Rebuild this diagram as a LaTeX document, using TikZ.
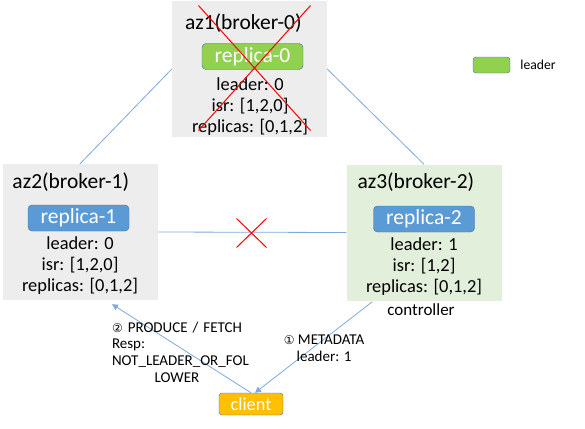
\documentclass[tikz,border=0pt]{standalone}
\usepackage{fontspec}
\setmainfont{Carlito}
\newfontfamily\symfont{DejaVu Sans}
\usetikzlibrary{arrows.meta, positioning, shapes.misc, calc}
\definecolor{azgray}{HTML}{EDEDED}
\definecolor{azgreen}{HTML}{E2EFDA}
\definecolor{repgreen}{HTML}{92D050}
\definecolor{repblue}{HTML}{5B9BD5}
\definecolor{repedge}{HTML}{41719C}
\definecolor{clientfill}{HTML}{FFC000}
\definecolor{linkblue}{HTML}{7FA8DC}

\begin{document}
\begin{tikzpicture}[
        x=1pt, y=-1pt,
        >={Triangle[width=6pt, length=6pt]},
        broker/.style={fill=azgray, minimum width=155pt, minimum height=136pt, inner sep=0pt},
        ctrlbroker/.style={broker, fill=azgreen},
        aztitle/.style={anchor=west, inner sep=0pt, font=\fontsize{21.5}{24}\selectfont},
        replica/.style={draw=repedge, fill=repblue, rounded corners=4pt, minimum width=101pt, minimum height=26pt, inner sep=0pt, text=white, font=\fontsize{21.5}{24}\selectfont},
        leaderrep/.style={replica, fill=repgreen},
        info/.style={align=center, inner sep=0pt, font=\fontsize{18.4}{21}\selectfont},
        link/.style={linkblue, line width=0.8pt},
        down/.style={draw=red, line width=1pt, cross out, inner sep=0pt},
        annot/.style={inner sep=0pt, align=center, font=\fontsize{15}{16.7}\selectfont}
    ]
    \useasboundingbox (0,0) rectangle (585,428);

    % --- Brokers ---
    \node[broker] (az1) at (249.5,69) {};
    \node[aztitle] (az1title) at ($(az1.north west)+(13,22)$) {az1(broker-0)};
    \node[leaderrep] (rep0) at (252.5,56.5) {replica-0};
    \node[info] (az1info) at (250,107) {leader: 0\\isr: [1,2,0]\\replicas: [0,1,2]};

    \node[broker] (az2) at (80,232) {};
    \node[aztitle] (az2title) at ($(az2.north west)+(10,18)$) {az2(broker-1)};
    \node[replica] (rep1) at (78.5,218) {replica-1};
    \node[info] (az2info) at (80,265.5) {leader: 0\\isr: [1,2,0]\\replicas: [0,1,2]};

    \node[ctrlbroker] (az3) at (424,232.5) {};
    \node[aztitle] (az3title) at ($(az3.north west)+(11,18)$) {az3(broker-2)};
    \node[replica] (rep2) at (424,219) {replica-2};
    \node[info] (az3info) at (424,267) {leader: 1\\isr: [1,2]\\replicas: [0,1,2]};
    \node[annot, font=\fontsize{17}{18}\selectfont] (ctrl) at (421,310) {controller};

    % --- Links between brokers ---
    \draw[link] (az1.west) -- (az2.north);
    \draw[link] (az1.east) -- (az3.north);
    \draw[link] (az2.east) -- (az3.west);

    % --- Failures ---
    \node[down, minimum width=111pt, minimum height=124pt] (az1down) at (254.5,68) {};
    \node[down, minimum width=29pt, minimum height=28pt] (linkdown) at (251.5,233) {};

    % --- Client ---
    \node[draw=repedge, fill=clientfill, rounded corners=3pt, minimum width=64pt, minimum height=22pt, inner sep=0pt, text=white, font=\fontsize{18.3}{20}\selectfont] (client) at (251,404) {client};
    \coordinate (fetchend) at ($(az2.south)+(32,4)$);
    \coordinate (metastart) at ($(az3.south west)+(26,1)$);
    \draw[link, ->] (client.north) -- (fetchend);
    \draw[link, ->] (metastart) -- ([xshift=4pt]client.north);
    \node[annot, text width=130pt] (fetchlbl) at (177,352) {{\symfont\fontsize{12}{14}\selectfont ②} PRODUCE / FETCH\\\makebox[130pt][l]{Resp:}\\NOT\_LEADER\_OR\_FOL\\LOWER};
    \node[annot] (metalbl) at (324,348) {{\symfont\fontsize{12}{14}\selectfont ①} METADATA\\leader: 1};

    % --- Legend ---
    \node[draw=repedge, fill=repgreen, rounded corners=3pt, minimum width=37pt, minimum height=16pt, inner sep=0pt] (legbox) at (491.5,65) {};
    \node[annot, anchor=west, right=10pt of legbox, font=\fontsize{13.7}{15}\selectfont] (leglbl) {leader};
\end{tikzpicture}
\end{document}
